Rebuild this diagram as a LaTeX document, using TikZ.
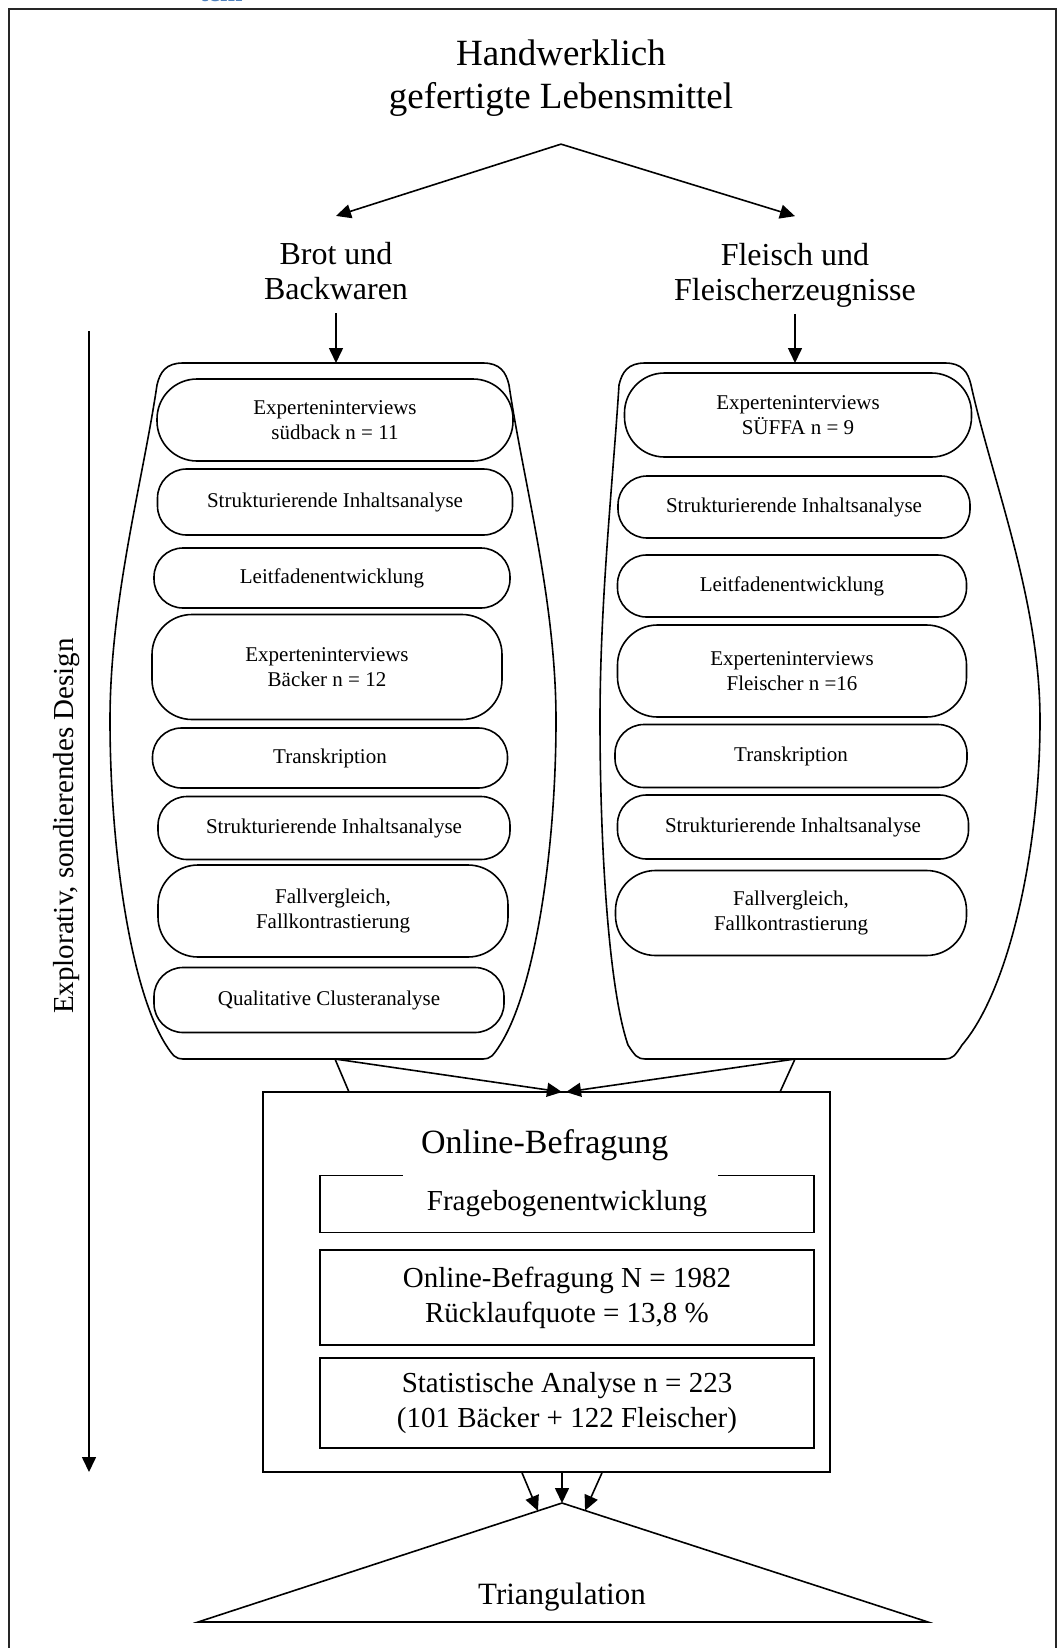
\documentclass[tikz,border=0pt]{standalone}
\usepackage{fontspec}
\setmainfont{Liberation Serif}
\usetikzlibrary{arrows.meta,calc}
\definecolor{kopfblau}{RGB}{79,129,189}
\tikzset{
  ablauf/.style={draw, line width=1.6pt, rounded corners=29pt, align=center, inner sep=0pt,
    font=\fontsize{21}{25}\selectfont},
  hoch/.style={rounded corners=40pt},
  kasten/.style={draw, line width=1.6pt, align=center, inner sep=0pt, minimum width=494pt,
    font=\fontsize{29}{35}\selectfont},
  pfeil/.style={-{Triangle[length=15pt,width=14pt]}, line width=1.6pt},
}
\begin{document}
\begin{tikzpicture}[x=1pt, y=-1pt, line width=1.6pt]
\useasboundingbox (0,0) rectangle (1058,1648);
\node[anchor=base, text=kopfblau, font=\bfseries\fontsize{27}{30}\selectfont] (kopf) at (221,2) {tem};
\draw[line width=2pt, black!85] (9,9) rectangle (1056,1680);

% Kopf und Zweige
\node[align=center, font=\fontsize{37}{43}\selectfont, inner xsep=0pt, inner ysep=27pt]
        (lebensmittel) at (561,78) {Handwerklich\\gefertigte Lebensmittel};
\node[align=center, font=\fontsize{32}{35}\selectfont, inner xsep=0pt, inner ysep=26pt]
        (brot) at (336,271.5) {Brot und\\Backwaren};
\node[align=center, font=\fontsize{32}{35}\selectfont, inner xsep=0pt, inner ysep=26pt]
        (fleisch) at (795,275) {Fleisch und\\Fleischerzeugnisse};
\draw[pfeil] (lebensmittel.south) -- (brot.north);
\draw[pfeil] (lebensmittel.south) -- (fleisch.north);

% Behaelter links
\draw (183,363) -- (483,363) .. controls (500,363) and (506,372) .. (509,385)
        .. controls (523,480) and (556,600) .. (556,720)
        .. controls (556,850) and (535,990) .. (500,1045)
        .. controls (493,1056) and (490,1059) .. (483,1059)
        -- (183,1059) .. controls (176,1059) and (173,1056) .. (166,1045)
        .. controls (131,990) and (110,850) .. (110,720)
        .. controls (110,600) and (143,480) .. (157,385)
        .. controls (160,372) and (166,363) .. (183,363) -- cycle;
% Behaelter rechts
\draw (645,363) -- (945,363) .. controls (962,363) and (968,372) .. (971,385)
        .. controls (992,480) and (1040,600) .. (1040,720)
        .. controls (1040,850) and (1009,990) .. (962,1045)
        .. controls (955,1056) and (952,1059) .. (945,1059)
        -- (645,1059) .. controls (638,1059) and (635,1056) .. (628,1045)
        .. controls (609,990) and (600,850) .. (600,720)
        .. controls (600,600) and (613,480) .. (619,385)
        .. controls (622,372) and (628,363) .. (645,363) -- cycle;
\coordinate (brotoben) at (336,363);
\coordinate (fleischoben) at (795,363);
\draw[pfeil] ([yshift=14pt]brot.south) -- (brotoben);
\draw[pfeil] ([yshift=20pt]fleisch.south) -- (fleischoben);

\node[ablauf, hoch, minimum width=356pt, minimum height=82pt] (b1) at (335,420) {Experteninterviews\\südback n = 11};
\node[ablauf, minimum width=355pt, minimum height=66pt] (b2) at (335,502) {Strukturierende Inhaltsanalyse};
\node[ablauf, minimum width=356pt, minimum height=60pt] (b3) at (332,578) {Leitfadenentwicklung};
\node[ablauf, hoch, minimum width=350pt, minimum height=105pt] (b4) at (327,667) {Experteninterviews\\Bäcker n = 12};
\node[ablauf, minimum width=355pt, minimum height=60pt] (b5) at (330,758) {Transkription};
\node[ablauf, minimum width=352pt, minimum height=63pt] (b6) at (334,828) {Strukturierende Inhaltsanalyse};
\node[ablauf, hoch, minimum width=350pt, minimum height=92pt] (b7) at (333,911) {Fallvergleich,\\Fallkontrastierung};
\node[ablauf, minimum width=350pt, minimum height=65pt] (b8) at (329,1000) {Qualitative Clusteranalyse};

\node[ablauf, hoch, minimum width=347pt, minimum height=84pt] (f1) at (798,415) {Experteninterviews\\SÜFFA n = 9};
\node[ablauf, minimum width=352pt, minimum height=62pt] (f2) at (794,507) {Strukturierende Inhaltsanalyse};
\node[ablauf, minimum width=349pt, minimum height=62pt] (f3) at (792,586) {Leitfadenentwicklung};
\node[ablauf, hoch, minimum width=349pt, minimum height=92pt] (f4) at (792,671) {Experteninterviews\\Fleischer n =16};
\node[ablauf, minimum width=352pt, minimum height=63pt] (f5) at (791,756) {Transkription};
\node[ablauf, minimum width=351pt, minimum height=64pt] (f6) at (793,827) {Strukturierende Inhaltsanalyse};
\node[ablauf, hoch, minimum width=351pt, minimum height=85pt] (f7) at (791,913) {Fallvergleich,\\Fallkontrastierung};

% Zeitachse
\node[rotate=90, font=\fontsize{29}{35}\selectfont, inner sep=0pt] (design) at (67,826)
        {Explorativ, sondierendes Design};
\coordinate (designoben) at (89,331);
\coordinate (designunten) at (89,1472);
\draw[pfeil] (designoben) -- (designunten);

% Online-Befragung
\node[draw, minimum width=567pt, minimum height=380pt, inner sep=0pt] (befragung) at (546.5,1282) {};
\node[kasten, minimum height=57pt] (frage) at (567,1204) {Fragebogenentwicklung};
\node[fill=white, anchor=south, font=\fontsize{34}{38}\selectfont, inner xsep=18pt, inner ysep=15pt,
        text width=279pt, align=left] (befragungtitel) at (560.5,1177) {Online-Befragung};
\node[kasten, minimum height=95pt] (stichprobe) at (567,1297.5) {Online-Befragung N = 1982\\Rücklaufquote = 13,8 \%};
\node[kasten, minimum height=90pt] (analyse) at (567,1403) {Statistische Analyse n = 223\\(101 Bäcker + 122 Fleischer)};

\coordinate (brotunten) at (335,1059);
\coordinate (fleischunten) at (795,1059);
\coordinate (trichterlinks) at (349,1092);
\coordinate (trichterrechts) at (780,1092);
\coordinate (ziellinks) at (562,1092);
\coordinate (zielrechts) at (566,1092);
\draw (brotunten) -- (trichterlinks);
\draw (fleischunten) -- (trichterrechts);
\draw[pfeil] (brotunten) -- (ziellinks);
\draw[pfeil] (fleischunten) -- (zielrechts);

% Triangulation
\coordinate (spitze) at (562,1503);
\coordinate (basislinks) at (198,1622);
\coordinate (basisrechts) at (928,1622);
\draw (basislinks) -- (spitze) -- (basisrechts) -- cycle;
\node[anchor=base, font=\fontsize{31}{35}\selectfont] (triangulation) at (562,1604) {Triangulation};
\draw[pfeil] ([xshift=-24.5pt]befragung.south) -- ($(spitze)!0.066!(basislinks)$);
\draw[pfeil] ([xshift=15.5pt]befragung.south) -- (spitze);
\draw[pfeil] ([xshift=55.5pt]befragung.south) -- ($(spitze)!0.063!(basisrechts)$);
\end{tikzpicture}
\end{document}
